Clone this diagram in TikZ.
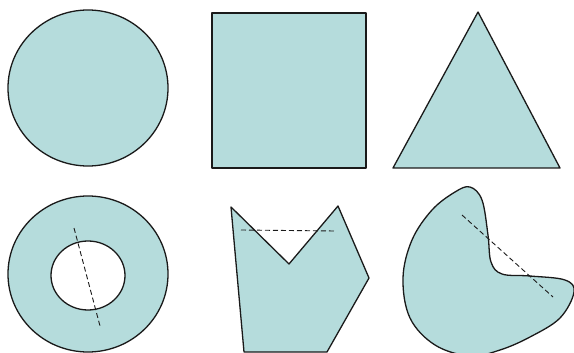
\documentclass[tikz,border=0pt]{standalone}
\usepackage{xcolor}
\usepackage{tikz}
\definecolor{shapefill}{RGB}{181,220,220}
\definecolor{edge}{HTML}{1A1A1A}

\begin{document}
\begin{tikzpicture}[x=1pt,y=-1pt,
    region/.style={fill=shapefill,draw=edge,line width=1.3pt,line join=round},
    chord/.style={draw=edge,line width=0.9pt,dash pattern=on 5pt off 3pt}]
  \useasboundingbox (0,0) rectangle (574,353);
  % top row: convex shapes
  \draw[region] (88,88) ellipse[x radius=80,y radius=78];
  \draw[region] (212,13) rectangle (366,168);
  \coordinate (T1) at (478,12);
  \coordinate (T2) at (560,168);
  \coordinate (T3) at (393,168);
  \draw[region] (T1)--(T2)--(T3)--cycle;
  % bottom row: non-convex shapes
  % ring
  \draw[region,even odd rule] (88,274) ellipse[x radius=80,y radius=78]
                              (88,275.5) ellipse[x radius=37,y radius=34.5];
  \coordinate (R1) at (74,228);
  \coordinate (R2) at (100,326);
  \draw[chord] (R1)--(R2);
  % polygon with a notch
  \coordinate (P1) at (231,207);
  \coordinate (P2) at (289,264);
  \coordinate (P3) at (338,206);
  \coordinate (P4) at (369,278);
  \coordinate (P5) at (327,352);
  \coordinate (P6) at (244,352);
  \draw[region] (P1)--(P2)--(P3)--(P4)--(P5)--(P6)--cycle;
  \coordinate (Q1) at (241,230);
  \coordinate (Q2) at (335,231);
  \draw[chord] (Q1)--(Q2);
  % curved blob
  \draw[region] plot[smooth cycle,tension=0.6] coordinates {
      (470,187) (482,200) (488,235) (491,262) (502,274) (530,276)
      (565,280) (574,292) (560,318) (530,337) (500,350) (470,356)
      (435,345) (410,318) (403,278) (412,240) (432,210) (455,192)};
  \coordinate (B1) at (462,215);
  \coordinate (B2) at (553,297);
  \draw[chord] (B1)--(B2);
\end{tikzpicture}
\end{document}
